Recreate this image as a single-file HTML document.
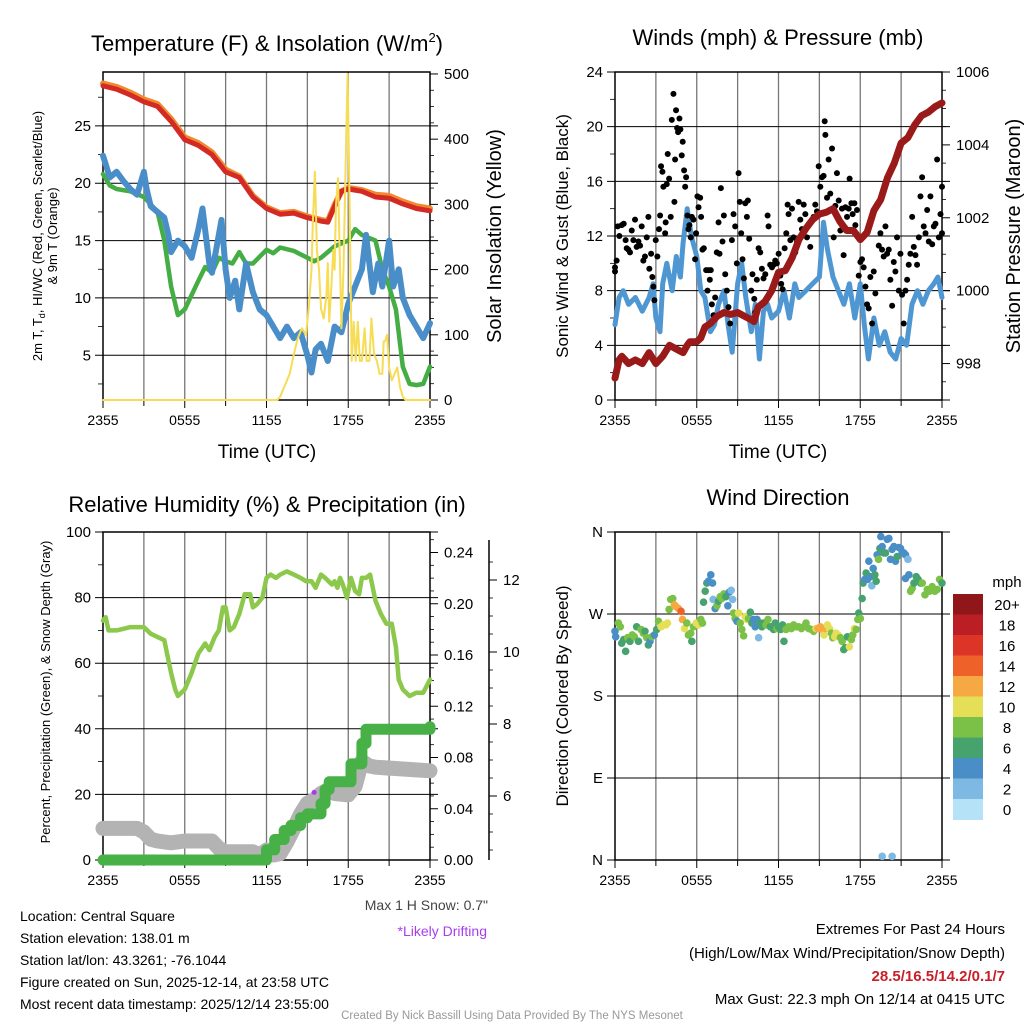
<!DOCTYPE html>
<html><head><meta charset="utf-8">
<style>
html,body{margin:0;padding:0;background:#fff;}
svg{display:block;font-family:"Liberation Sans",Arial,sans-serif;}
</style></head>
<body>
<svg id="chart" width="1024" height="1024" viewBox="0 0 1024 1024" xmlns="http://www.w3.org/2000/svg">
<rect width="1024" height="1024" fill="#fff"/>
<g id="p1"></g>
<g id="p2"></g>
<g id="p3"></g>
<g id="p4"></g>
<g id="txt" font-size="14" fill="#000">
<text x="267" y="51" font-size="22" text-anchor="middle">Temperature (F) &amp; Insolation (W/m<tspan font-size="13" dy="-9">2</tspan><tspan dy="9">)</tspan></text>
<text x="778" y="45" font-size="22" text-anchor="middle">Winds (mph) &amp; Pressure (mb)</text>
<text x="267" y="512" font-size="22" text-anchor="middle">Relative Humidity (%) &amp; Precipitation (in)</text>
<text x="778" y="505" font-size="22" text-anchor="middle">Wind Direction</text>
<text x="267" y="458" font-size="19" text-anchor="middle">Time (UTC)</text>
<text x="778" y="458" font-size="19" text-anchor="middle">Time (UTC)</text>
<text transform="translate(42,236) rotate(-90)" font-size="13" text-anchor="middle">2m T, T<tspan font-size="9" dy="3">d</tspan><tspan dy="-3">, HI/WC (Red, Green, Scarlet/Blue)</tspan></text>
<text transform="translate(57,236) rotate(-90)" font-size="13" text-anchor="middle">&amp; 9m T (Orange)</text>
<text transform="translate(501,236) rotate(-90)" font-size="20" text-anchor="middle">Solar Insolation (Yellow)</text>
<text transform="translate(568,236) rotate(-90)" font-size="17" text-anchor="middle">Sonic Wind &amp; Gust (Blue, Black)</text>
<text transform="translate(1020,236) rotate(-90)" font-size="20" text-anchor="middle">Station Pressure (Maroon)</text>
<text transform="translate(50,692) rotate(-90)" font-size="13" text-anchor="middle">Percent, Precipitation (Green), &amp; Snow Depth (Gray)</text>
<text transform="translate(568,696) rotate(-90)" font-size="17" text-anchor="middle">Direction (Colored By Speed)</text>
<text x="488" y="910" text-anchor="end" fill="#444">Max 1 H Snow: 0.7"</text>
<text x="487" y="936" text-anchor="end" fill="#a63ef0">*Likely Drifting</text>
<text x="20" y="921">Location: Central Square</text>
<text x="20" y="943">Station elevation: 138.01 m</text>
<text x="20" y="965">Station lat/lon: 43.3261; -76.1044</text>
<text x="20" y="987">Figure created on Sun, 2025-12-14, at 23:58 UTC</text>
<text x="20" y="1009">Most recent data timestamp: 2025/12/14 23:55:00</text>
<text x="1005" y="934" text-anchor="end" font-size="15">Extremes For Past 24 Hours</text>
<text x="1005" y="958" text-anchor="end" font-size="15">(High/Low/Max Wind/Precipitation/Snow Depth)</text>
<text x="1005" y="981" text-anchor="end" font-size="15" font-weight="bold" fill="#c8202a">28.5/16.5/14.2/0.1/7</text>
<text x="1005" y="1004" text-anchor="end" font-size="15">Max Gust: 22.3 mph On 12/14 at 0415 UTC</text>
<text x="512" y="1019" text-anchor="middle" font-size="11.5" fill="#999">Created By Nick Bassill Using Data Provided By The NYS Mesonet</text>
</g>
</svg>
<script>
// ---------- data ----------
const xTickLabels=["2355","0555","1155","1755","2355"];
const tempT=[0,1,2,3,4,5,6,7,8,9,10,11,12,13,14,15,16,16.5,17,17.5,18,19,20,21,22,23,24];
const tempRed=[28.5,28.2,27.7,27.1,26.7,25.4,23.8,23.3,22.5,21.0,20.5,18.8,17.8,17.3,17.4,17.0,16.7,16.6,18.0,19.3,19.5,19.3,18.8,18.7,18.2,17.8,17.6];
const tempOrange=[28.7,28.4,27.9,27.3,26.9,25.6,24.0,23.5,22.7,21.2,20.6,18.9,17.9,17.4,17.5,17.1,16.8,16.7,18.1,19.3,19.6,19.4,19.0,18.9,18.4,18.0,17.8];
const wcT=[0,0.5,1,1.5,2,2.5,3,3.2,3.5,4,4.5,4.8,5,5.5,6,6.5,7,7.3,7.8,8,8.5,8.7,9,9.3,9.7,10,10.5,11,11.5,12,12.5,13,13.5,14,14.5,15,15.3,15.6,16,16.5,17,17.5,18,18.5,19,19.3,19.8,20.2,20.5,21,21.3,21.7,22,22.5,23,23.5,24];
const wcBlue=[22.4,20.5,21.0,20.2,19.5,19.0,21.0,19.5,18.0,17.5,17.0,15.5,14.0,15.0,14.5,13.5,16.0,17.8,13.0,12.2,15.5,16.8,12.5,10.0,11.5,9.0,13.0,10.5,9.0,8.5,7.5,6.5,7.5,6.5,7.0,5.0,3.5,5.5,6.0,4.5,7.5,7.0,9.5,11.0,12.5,15.5,10.5,13.0,11.0,15.0,11.0,12.5,10.0,8.5,7.5,6.5,7.8];
const tdT=[0,0.5,1,2,3,4,4.5,5,5.5,6,7,7.5,8,8.5,9,9.5,10,10.5,11,12,12.5,13,14,15,15.5,16,17,18,18.5,19,20,20.5,21,21.5,22,22.5,23,23.5,24];
const tdGreen=[20.8,19.8,19.5,19.3,18.8,17.5,15.0,11.0,8.5,9.0,11.5,12.7,12.2,13.5,13.2,13.0,14.0,13.0,13.0,14.2,13.9,14.4,14.1,13.5,13.2,13.5,14.5,15.0,16.0,15.5,15.0,12.5,11.0,9.0,4.0,2.5,2.4,2.5,4.0];
const solT=[0,12.8,13.0,13.3,13.7,14.0,14.3,14.6,14.9,15.1,15.3,15.4,15.55,15.7,15.85,16.0,16.2,16.4,16.5,16.6,16.75,16.9,17.0,17.1,17.25,17.4,17.5,17.65,17.8,17.95,18.1,18.25,18.4,18.55,18.7,18.85,19.0,19.2,19.35,19.55,19.7,19.9,20.1,20.3,20.5,20.6,20.7,20.85,21.0,21.2,21.4,21.6,21.8,22.0,22.2,24];
const solW=[0,0,5,20,40,70,95,110,100,140,200,270,350,230,200,140,125,160,210,120,170,230,200,300,340,200,110,200,350,500,300,60,120,60,120,60,60,110,60,60,125,70,60,40,40,90,90,100,50,30,40,50,20,5,0,0];
const windT=[0,0.3,0.6,1,1.5,2,2.5,2.8,3,3.3,3.5,3.8,4.2,4.5,4.8,5.0,5.3,5.6,6.0,6.3,6.6,7.0,7.3,7.6,8.0,8.3,8.6,9.0,9.3,9.6,10,10.3,10.6,10.9,11.2,11.5,12,12.4,12.8,13.2,13.5,14,14.5,15,15.3,15.6,16,16.4,16.8,17.2,17.6,18,18.3,18.6,19,19.4,19.8,20.2,20.6,21,21.4,21.8,22.2,22.6,23,23.4,23.7,24];
const windBlue=[5.5,7.5,8.0,7.0,7.5,6.5,7.5,8.5,6.0,5.0,8.5,10.0,8.0,10.5,9.0,11.5,14.0,12.0,10.5,8.0,7.5,5.0,5.5,7.0,8.0,5.5,3.5,8.5,10.0,7.5,5.0,7.0,3.0,6.5,7.0,6.0,6.5,8.0,6.0,8.5,7.5,8.0,8.5,9.0,13.0,11.0,9.0,8.0,7.0,8.5,6.0,8.5,5.5,3.0,6.0,4.0,5.0,3.5,3.0,4.5,4.0,7.0,8.0,7.0,8.0,8.5,9.0,7.5];
const gustT=[0,0,0.12,0.2,0.32,0.49,0.64,0.78,0.86,0.98,1.1,1.23,1.35,1.47,1.59,1.72,1.84,1.96,2.08,2.2,2.33,2.45,2.52,2.65,2.74,2.82,2.89,2.99,3.11,3.23,3.31,3.38,3.48,3.55,3.68,3.72,3.8,3.87,3.97,4.09,4.17,4.29,4.36,4.41,4.48,4.56,4.63,4.73,4.8,4.9,4.97,5.07,5.15,5.22,5.32,5.39,5.46,5.56,5.64,5.76,5.88,5.95,6.05,6.13,6.25,6.32,6.42,6.52,6.69,6.79,6.86,6.96,7.03,7.11,7.23,7.35,7.47,7.6,7.67,7.77,7.89,7.99,8.09,8.21,8.33,8.45,8.58,8.7,8.82,8.94,9.07,9.16,9.26,9.36,9.46,9.56,9.68,9.75,9.85,10.0,10.09,10.22,10.29,10.41,10.54,10.66,10.78,10.9,11.03,11.2,11.27,11.39,11.52,11.64,11.76,11.88,12.01,12.13,12.2,12.3,12.45,12.57,12.67,12.74,12.87,12.99,13.11,13.23,13.36,13.48,13.6,13.72,13.85,13.97,14.09,14.21,14.33,14.58,14.7,14.82,14.95,15.07,15.19,15.31,15.39,15.44,15.56,15.68,15.8,15.93,16.05,16.17,16.29,16.42,16.54,16.66,16.78,16.91,17.03,17.15,17.22,17.35,17.44,17.57,17.64,17.76,17.89,18.01,18.13,18.25,18.38,18.5,18.62,18.74,18.87,18.99,19.11,19.23,19.36,19.48,19.6,19.72,19.85,19.97,20.09,20.21,20.34,20.46,20.58,20.7,20.83,20.95,21.07,21.19,21.32,21.44,21.56,21.68,21.81,21.93,22.05,22.17,22.3,22.42,22.54,22.66,22.79,22.91,23.03,23.15,23.28,23.4,23.52,23.64,23.77,23.89,24.0,24.0];
const gustV=[9.7,9.4,10.2,12.7,12.0,12.8,12.9,11.7,11.1,11.0,10.8,12.4,11.7,13.2,11.2,11.6,11.3,12.7,10.2,10.5,11.9,13.4,9.6,10.7,9.0,8.3,7.3,11.7,10.5,12.5,13.5,17.1,16.7,15.6,12.2,13.0,15.8,18.0,16.2,13.4,20.5,22.4,14.5,17.6,21.2,19.9,19.6,20.6,19.8,17.9,18.9,16.8,15.6,16.3,13.5,12.5,12.8,11.9,13.4,13.2,10.3,12.2,14.9,14.1,14.8,13.4,11.0,11.1,9.5,8.0,9.5,8.8,9.5,7.0,6.2,7.5,10.8,13.0,10.7,15.5,11.6,13.5,9.2,8.0,6.8,5.6,11.7,13.6,12.7,10.0,16.6,14.5,12.2,10.3,8.9,14.4,13.4,14.6,11.8,8.0,9.2,7.4,6.4,8.8,11.1,10.8,9.6,8.9,9.2,13.5,12.7,9.9,9.7,9.9,10.2,10.0,10.7,9.1,8.5,8.1,11.1,12.2,14.3,13.6,11.7,14.0,11.9,10.8,11.6,14.5,13.2,12.5,14.3,13.6,11.9,12.8,11.2,13.4,14.3,13.8,17.1,15.6,16.3,16.4,20.4,19.4,14.8,17.6,15.1,18.4,11.9,14.2,16.6,14.6,12.4,14.0,10.6,14.1,13.4,14.0,16.2,14.4,13.6,14.4,12.8,13.9,9.1,10.1,10.3,9.7,8.3,7.0,6.7,9.0,5.6,9.4,7.8,14.3,11.3,12.2,11.0,10.5,12.7,10.7,11.0,8.8,6.9,10.1,9.4,11.9,8.0,10.7,7.7,5.6,8.0,8.8,9.9,10.7,13.4,11.2,10.6,9.9,11.9,14.9,16.3,12.7,12.2,13.9,11.6,14.9,11.4,12.7,12.9,17.6,11.9,13.6,15.6,12.2];
const presT=[0,0.3,0.5,1,1.5,2,2.5,3,3.5,4,4.5,5,5.3,5.5,6,6.3,6.6,7,7.5,8,8.5,9,9.5,10,10.2,10.5,11,11.5,12,12.5,13,13.5,14,14.5,15,15.5,16,16.5,17,17.5,18,18.5,19,19.5,20,20.5,21,21.5,22,22.5,23,23.5,24];
const presMb=[997.6,998.1,998.2,998.0,998.1,998.0,998.3,998.0,998.2,998.5,998.4,998.3,998.5,998.6,998.6,998.7,999.0,999.1,999.3,999.4,999.35,999.4,999.3,999.2,999.15,999.55,999.7,1000.0,1000.5,1000.55,1000.9,1001.4,1001.7,1001.95,1002.1,1002.15,1002.25,1001.9,1001.65,1001.65,1001.4,1001.6,1002.2,1002.5,1003.1,1003.5,1004.05,1004.2,1004.55,1004.8,1004.9,1005.05,1005.15];
const rhT=[0,0.2,0.4,1,1.5,2,2.5,3,3.5,4,4.5,4.7,5,5.3,5.5,6,6.5,7,7.5,7.8,8.2,8.5,8.8,9,9.3,9.6,10,10.4,10.8,11,11.3,11.7,12,12.3,12.7,13,13.5,14,14.5,14.9,15.3,15.6,16,16.3,16.8,17,17.2,17.4,17.6,17.9,18.2,18.5,18.8,19,19.3,19.6,20,20.4,20.8,21.2,21.5,21.7,22,22.5,23,23.5,24];
const rhPct=[73,74,70,70,70.5,71,71,71,69,68,67,63,57,52,50,52,57,63,66,64,68,70,77,77,70,71,75,81,81,77,78,80,86,87,86,87,88,87,86,85,85,83,87,86,84,85,83,86,84,80,86,82,81,86,86,87,79,75,72,72,65,55,52,50,51,51,55];
const precipT=[0,11.6,12.0,12.6,13.3,13.8,14.5,15.0,15.5,16.0,16.3,16.6,17.6,18.2,18.8,19.0,19.3,24];
const precipIn=[0,0,0.008,0.016,0.023,0.027,0.033,0.036,0.036,0.044,0.055,0.061,0.061,0.075,0.075,0.091,0.102,0.104];
const snowT=[0,2.5,3,3.5,4,5,6,8,8.5,9,11,11.5,12,12.5,13,13.5,14,14.5,15,15.5,16,16.5,17,18,18.5,19,19.5,20,24];
const snowIn=[5.1,5.1,5.0,4.8,4.75,4.7,4.75,4.75,4.55,4.45,4.45,4.36,4.5,4.36,4.4,4.72,5.1,5.5,5.8,5.9,6.07,6.17,6.07,6.03,6.27,6.97,6.84,6.8,6.7];
const driftT=[14.6,15.5];
const driftIn=[5.3,6.1];
const dirT=[0,0.05,0.25,0.39,0.49,0.64,0.78,0.93,1.1,1.27,1.42,1.59,1.72,1.91,2.08,2.2,2.33,2.45,2.57,2.7,2.89,3.06,3.19,3.38,3.55,3.73,3.85,3.97,4.09,4.24,4.36,4.48,4.66,4.85,4.95,5.1,5.27,5.39,5.56,5.64,5.76,5.96,6.13,6.3,6.42,6.5,6.62,6.74,6.86,7.03,7.16,7.2,7.35,7.48,7.6,7.72,7.84,7.99,8.14,8.28,8.38,8.53,8.63,8.7,8.82,8.95,9.07,9.19,9.31,9.44,9.56,9.68,9.8,9.93,10.05,10.17,10.29,10.42,10.54,10.66,10.78,10.93,11.08,11.23,11.4,11.52,11.64,11.76,11.89,12.0,12.16,12.3,12.4,12.55,12.75,12.94,13.11,13.28,13.48,13.68,13.85,14.02,14.22,14.41,14.58,14.75,14.9,15.07,15.2,15.34,15.44,15.59,15.74,15.88,15.98,16.13,16.23,16.37,16.54,16.67,16.79,16.91,17.06,17.2,17.35,17.45,17.57,17.7,17.82,17.89,18.01,18.14,18.21,18.33,18.43,18.53,18.63,18.75,18.85,18.95,19.07,19.17,19.24,19.34,19.44,19.51,19.61,19.73,19.85,19.98,20.1,20.22,20.34,20.47,20.59,20.71,20.83,20.96,21.08,21.2,21.32,21.5,21.32,21.57,21.69,21.81,21.94,22.11,22.25,22.43,22.55,22.75,22.92,23.09,23.28,23.48,23.65,23.82,24.0,19.61,20.34];
const dirDeg=[251,245,260,256,238,242,229,244,240,247,245,256,240,253,249,251,244,236,240,245,247,253,262,256,258,258,260,275,286,287,280,278,276,273,264,254,260,247,249,240,256,260,258,264,260,283,295,304,306,313,304,286,276,279,284,289,287,292,289,279,294,296,286,271,265,262,271,260,253,246,267,264,265,272,260,264,256,264,244,260,256,260,258,264,256,256,253,260,254,256,253,258,240,253,256,254,258,256,256,254,256,260,254,253,251,254,254,256,253,247,254,258,254,249,244,245,249,247,244,240,231,233,245,234,242,247,254,253,264,271,265,287,304,308,315,308,328,311,301,320,313,306,335,330,342,355,344,337,337,352,353,330,341,344,328,333,343,342,337,337,335,330,309,313,295,298,304,311,308,304,304,291,297,295,300,295,297,308,304,4,4];
const dirSpd=[4,4,8,8,6,6,6,8,6,8,8,6,6,8,8,6,8,6,4,8,4,6,8,10,10,10,10,8,8,8,12,12,12,14,12,10,8,8,8,6,8,10,10,8,8,6,6,6,4,4,4,2,4,8,6,8,8,8,6,4,4,2,2,8,8,4,10,8,8,8,10,10,8,6,6,4,4,4,2,6,6,6,8,8,6,6,6,6,8,6,6,6,6,8,8,8,8,8,8,8,8,8,8,8,8,10,12,12,12,10,12,10,10,8,8,10,10,10,8,8,6,6,6,10,8,8,10,8,8,6,8,6,6,4,6,4,4,4,2,4,6,6,4,8,6,4,4,6,6,4,4,4,4,4,4,6,4,4,4,4,4,2,4,4,8,8,6,6,6,6,8,8,8,8,8,8,8,8,6,2,2];
const speedLabels=["0","2","4","6","8","10","12","14","16","18","20+"];
const speedColors=["#b5e2f7","#7db9e3","#4a8ec7","#47a36e","#7cc147","#e5df58","#f6a843","#ee6229","#dc3426","#bb1e25","#8f1619"];

// ---------- helpers ----------
const NS="http://www.w3.org/2000/svg";
function mk(parent,tag,attrs){const e=document.createElementNS(NS,tag);for(const k in attrs)e.setAttribute(k,attrs[k]);parent.appendChild(e);return e;}
const PX0=103,PX1=430;
function sx(h,off){return off+PX0+h/24*(PX1-PX0);}
function pathOf(ts,vs,off,fy){let d="";for(let i=0;i<ts.length;i++){d+=(i?"L":"M")+sx(ts[i],off).toFixed(1)+","+fy(vs[i]).toFixed(1);}return d;}
function stepOf(ts,vs,off,fy){let d="";for(let i=0;i<ts.length;i++){const x=sx(ts[i],off).toFixed(1),y=fy(vs[i]).toFixed(1);if(i===0)d="M"+x+","+y;else d+="H"+x+"V"+y;}return d;}

function frame(g,off,top,bot,hVals,fy,labels,name){
  // vertical grid every 3 hours
  for(let h=3;h<24;h+=3){const l=mk(g,"line",{x1:sx(h,off),x2:sx(h,off),y1:top,y2:bot,stroke:"#777","stroke-width":1.3});
    
    }
  hVals.forEach((v,i)=>{const y=fy(v);
    const l=mk(g,"line",{x1:off+PX0-8,x2:off+PX1+8,y1:y,y2:y,stroke:"#000","stroke-width":1});
    
    
    const t=mk(g,"text",{x:off+PX0-12,y:y+5,"text-anchor":"end","font-size":15});t.textContent=labels[i];
    
    });
  const r=mk(g,"rect",{x:off+PX0,y:top,width:PX1-PX0,height:bot-top,fill:"none",stroke:"#000","stroke-width":1.5});
  
  
  xTickLabels.forEach((s,i)=>{const h=i*6;
    mk(g,"line",{x1:sx(h,off),x2:sx(h,off),y1:bot,y2:bot+8,stroke:"#000"});
    const t=mk(g,"text",{x:sx(h,off),y:bot+25,"text-anchor":"middle","font-size":14});t.textContent=s;
    
    });
  for(let h=3;h<24;h+=6)mk(g,"line",{x1:sx(h,off),x2:sx(h,off),y1:bot,y2:bot+6,stroke:"#000"});
}
function rightAxis(g,x,vals,fy,labels,minor,name){
  vals.forEach((v,i)=>{const y=fy(v);mk(g,"line",{x1:x,x2:x+8,y1:y,y2:y,stroke:"#000"});
    const t=mk(g,"text",{x:x+14,y:y+5,"font-size":15});t.textContent=labels[i];
    
    });
  minor.forEach(v=>{const y=fy(v);mk(g,"line",{x1:x,x2:x+4,y1:y,y2:y,stroke:"#000","stroke-width":0.8});});
}
function line(g,d,color,w,name){const p=mk(g,"path",{d:d,fill:"none",stroke:color,"stroke-width":w,"stroke-linejoin":"round","stroke-linecap":"round"});
  
  return p;}

// ---------- panel 1 ----------
(function(){const g=document.getElementById("p1");
  const top=72,bot=400;
  const fy=v=>bot-(v-1.1)/(29.7-1.1)*(bot-top);
  const fr=w=>bot-w/503*(bot-top);
  frame(g,0,top,bot,[5,10,15,20,25],fy,["5","10","15","20","25"],"temperature");
  const minor=[];for(let v=2.5;v<30;v+=5)minor.push(v);
  minor.forEach(v=>mk(g,"line",{x1:PX0-5,x2:PX0,y1:fy(v),y2:fy(v),stroke:"#000","stroke-width":0.8}));
  const rm=[];for(let w=0;w<=500;w+=25)if(w%100)rm.push(w);
  rightAxis(g,PX1,[0,100,200,300,400,500],fr,["0","100","200","300","400","500"],rm,"solar");
  line(g,pathOf(tdT,tdGreen,0,fy),"#44ad44",4.5,"dewpoint-line");
  line(g,pathOf(wcT,wcBlue,0,fy),"#4a8ec9",6,"windchill-line");
  line(g,pathOf(tempT,tempOrange,0,fy),"#f08a2c",6,"9m-temperature-line");
  line(g,pathOf(tempT,tempRed,0,fy),"#d42a26",5,"2m-temperature-line");
  line(g,pathOf(solT,solW,0,fr),"#f7dc55",2,"solar-insolation-line");
})();

// ---------- panel 2 ----------
(function(){const g=document.getElementById("p2");const off=512;
  const top=72,bot=400;
  const fy=v=>bot-v/24*(bot-top);
  const fp=p=>bot-(p-997)/9*(bot-top);
  frame(g,off,top,bot,[0,4,8,12,16,20,24],fy,["0","4","8","12","16","20","24"],"wind");
  for(let v=2;v<24;v+=4)mk(g,"line",{x1:off+PX0-5,x2:off+PX0,y1:fy(v),y2:fy(v),stroke:"#000","stroke-width":0.8});
  const pm=[];for(let p=997.5;p<1006;p+=0.5)if(p%2)pm.push(p);
  rightAxis(g,off+PX1,[998,1000,1002,1004,1006],fp,["998","1000","1002","1004","1006"],pm,"pressure");
  line(g,pathOf(windT,windBlue,off,fy),"#4f97d3",5,"sonic-wind-line");
  gustT.forEach((t,i)=>{const c=mk(g,"circle",{cx:sx(t,off),cy:fy(gustV[i]),r:3,fill:"#000"});
    
    });
  line(g,pathOf(presT,presMb,off,fp),"#9a1a1a",7,"pressure-line");
})();

// ---------- panel 3 ----------
(function(){const g=document.getElementById("p3");
  const top=532,bot=860;
  const fy=v=>bot-v/100*(bot-top);
  const fpr=p=>bot-p/0.256*(bot-top);
  const fs=s=>796-(s-6)*36;
  frame(g,0,top,bot,[0,20,40,60,80,100],fy,["0","20","40","60","80","100"],"humidity");
  for(let v=10;v<100;v+=20)mk(g,"line",{x1:PX0-5,x2:PX0,y1:fy(v),y2:fy(v),stroke:"#000","stroke-width":0.8});
  const pm=[];for(let p=0.01;p<0.256;p+=0.01){const r=Math.round(p*100);if(r%4)pm.push(r/100);}
  rightAxis(g,PX1,[0,0.04,0.08,0.12,0.16,0.2,0.24],fpr,["0.00","0.04","0.08","0.12","0.16","0.20","0.24"],pm,"precip");
  const ax=mk(g,"line",{x1:489,x2:489,y1:540,y2:860,stroke:"#000","stroke-width":1.5});
  
  
  const sm=[];for(let s=4.5;s<12.8;s+=0.5)if(s%2)sm.push(s);
  rightAxis(g,489,[6,8,10,12],fs,["6","8","10","12"],sm,"snow");
  line(g,pathOf(snowT,snowIn,0,fs),"#b3b3b3",15,"snow-depth-line");
  driftT.forEach((t,i)=>{const c=mk(g,"circle",{cx:sx(t,0),cy:fs(driftIn[i]),r:2.5,fill:"#a63ef0"});
    
    });
  line(g,stepOf(precipT,precipIn,0,fpr),"#47b047",11,"precipitation-line");
  line(g,pathOf(rhT,rhPct,0,fy),"#8cc84b",4.5,"relative-humidity-line");
})();

// ---------- panel 4 ----------
(function(){const g=document.getElementById("p4");const off=512;
  const top=532,bot=860;
  const fy=d=>bot-d/360*(bot-top);
  frame(g,off,top,bot,[0,90,180,270,360],fy,["N","E","S","W","N"],"direction");
  dirT.forEach((t,i)=>{const b=Math.min(10,Math.floor(dirSpd[i]/2));
    const c=mk(g,"circle",{cx:sx(t,off),cy:fy(dirDeg[i]),r:3.8,fill:speedColors[b]});
    
    });
  const x0=953,y0=594,bh=20.5;
  const mt=mk(g,"text",{x:1007,y:587,"text-anchor":"middle","font-size":15});mt.textContent="mph";
  
  
  for(let i=0;i<speedColors.length;i++){const k=speedColors.length-1-i;
    const r=mk(g,"rect",{x:x0,y:y0+i*bh,width:30,height:bh+0.5,fill:speedColors[k]});
    
    
    const t=mk(g,"text",{x:1007,y:y0+i*bh+bh/2+5.5,"text-anchor":"middle","font-size":15});t.textContent=speedLabels[k];
    
    }
})();
</script>
</body></html>
